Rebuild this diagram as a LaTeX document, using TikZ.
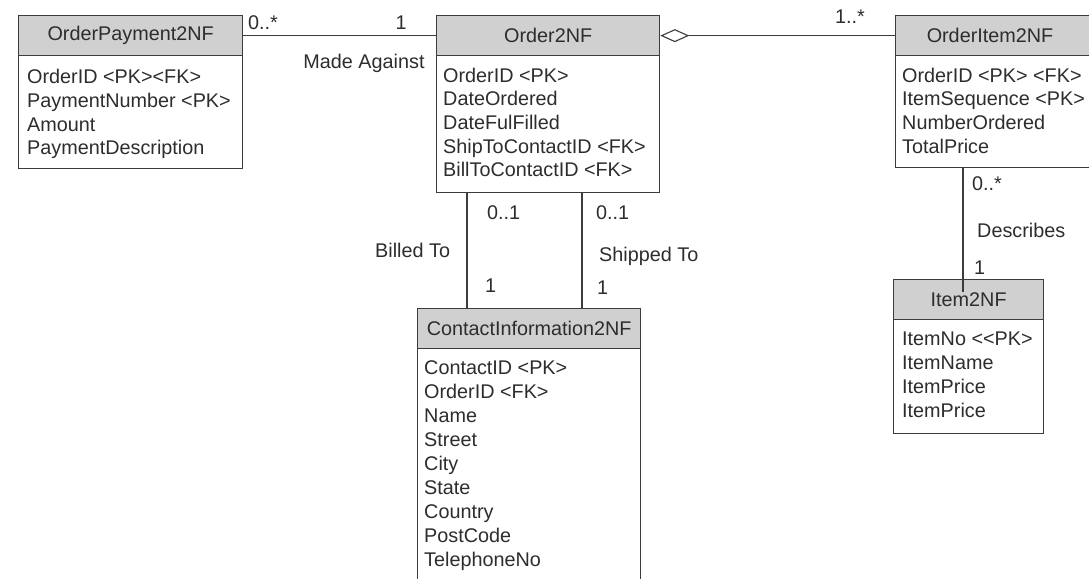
\documentclass[tikz,border=0pt]{standalone}
\usepackage{fontspec}
\setmainfont{Liberation Sans}
\usetikzlibrary{arrows.meta,calc}
\definecolor{hdr}{RGB}{208,208,208}
\definecolor{ln}{RGB}{60,60,60}
\definecolor{txt}{RGB}{45,45,45}
\tikzset{
  hdrbox/.style={draw=ln, fill=hdr, line width=1.3pt, anchor=north west, inner sep=0pt, text=txt},
  bodybox/.style={draw=ln, fill=white, line width=1.3pt, anchor=north west, inner sep=0pt},
  attr/.style={anchor=base west, inner sep=0pt, text=txt},
  lbl/.style={anchor=base west, inner sep=0pt, text=txt},
  lblc/.style={anchor=base, inner sep=0pt, text=txt},
  conn/.style={draw=ln, line width=1.3pt},
}
\begin{document}
\begin{tikzpicture}[x=1pt,y=-1pt,font=\fontsize{19.8}{23.5}\selectfont]
\useasboundingbox (0,0) rectangle (1089,578);
\clip (0,0) rectangle (1089,578);
\fill[white] (0,0) rectangle (1089,578);

% OrderPayment2NF
\node[bodybox, minimum width=224pt, minimum height=113pt] (payB) at (18,55) {};
\node[hdrbox, minimum width=224pt, minimum height=40pt] (payH) at (18,15) {OrderPayment2NF};
\foreach \t [count=\i] in {OrderID <PK><FK>, PaymentNumber <PK>, Amount, PaymentDescription}
  \node[attr] (pay\i) at (27,{84+23.5*(\i-1)}) {\t};

% Order2NF
\node[bodybox, minimum width=223pt, minimum height=137pt] (ordB) at (436,55) {};
\node[hdrbox, minimum width=223pt, minimum height=40pt] (ordH) at (436,15) {Order2NF};
\foreach \t [count=\i] in {OrderID <PK>, DateOrdered, DateFulFilled, ShipToContactID <FK>, BillToContactID <FK>}
  \node[attr] (ord\i) at (443,{82+23.7*(\i-1)}) {\t};

% OrderItem2NF
\node[bodybox, minimum width=197pt, minimum height=112pt] (oiB) at (895,55) {};
\node[hdrbox, minimum width=197pt, minimum height=40pt] (oiH) at (895,15) {};
\node[inner sep=0pt, text=txt] (oiT) at (990,35) {OrderItem2NF};
\foreach \t [count=\i] in {OrderID <PK> <FK>, ItemSequence <PK>, NumberOrdered, TotalPrice}
  \node[attr] (oi\i) at (902,{82+23.7*(\i-1)}) {\t};

% ContactInformation2NF
\node[bodybox, minimum width=223pt, minimum height=260pt] (conB) at (417,348) {};
\node[hdrbox, minimum width=223pt, minimum height=40pt] (conH) at (417,308) {ContactInformation2NF};
\foreach \t [count=\i] in {ContactID <PK>, OrderID <FK>, Name, Street, City, State, Country, PostCode, TelephoneNo}
  \node[attr] (con\i) at (424,{374+24.1*(\i-1)}) {\t};

% Item2NF
\node[bodybox, minimum width=150pt, minimum height=114pt] (itB) at (893,319) {};
\node[hdrbox, minimum width=150pt, minimum height=40pt] (itH) at (893,279) {Item2NF};
\foreach \t [count=\i] in {ItemNo <{}<PK>, ItemName, ItemPrice, ItemPrice}
  \node[attr] (it\i) at (902,{345+24*(\i-1)}) {\t};

% connectors
\draw[conn] (payH.east) -- (ordH.west);
\draw[conn, {Diamond[open, fill=white, length=29pt, width=13pt, line width=1.1pt]}-] (ordH.east) -- (oiH.west);
\coordinate (bt) at (467,250);
\coordinate (st) at (582,250);
\draw[conn] (ordB.south -| bt) -- (conH.north -| bt);
\draw[conn] (ordB.south -| st) -- (conH.north -| st);
\coordinate (dsc) at (963,292);
\draw[conn] (oiB.south -| dsc) -- (dsc);

% labels
\node[lbl] (l1) at (248,30) {0..*};
\node[lblc] (l2) at (401,30) {1};
\node[lblc] (l3) at (364,69) {Made Against};
\node[lbl] (l4) at (835,24) {1..*};
\node[lbl] (l5) at (487,219) {0..1};
\node[lbl] (l6) at (596,219) {0..1};
\node[lbl] (l7) at (375,257) {Billed To};
\node[lbl] (l8) at (599,261) {Shipped To};
\node[lbl] (l9) at (485,292) {1};
\node[lbl] (l10) at (597,294) {1};
\node[lbl] (l11) at (972,190) {0..*};
\node[lbl] (l12) at (977,237) {Describes};
\node[lbl] (l13) at (974,274) {1};
\end{tikzpicture}
\end{document}
